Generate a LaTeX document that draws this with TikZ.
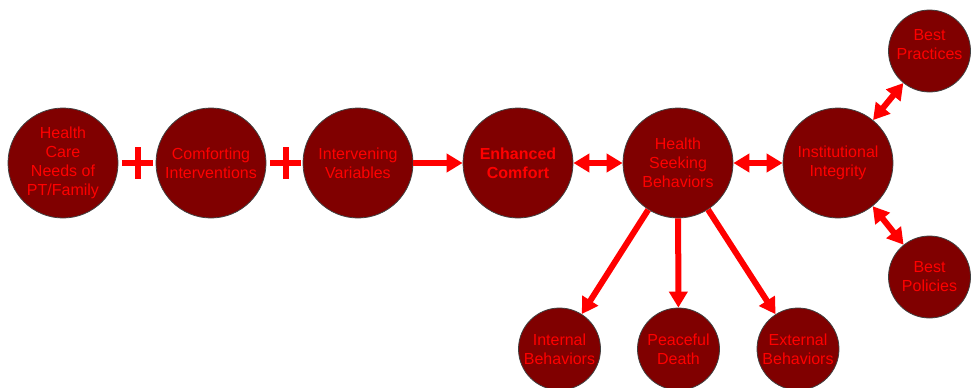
\documentclass[tikz,border=0pt]{standalone}
\usepackage{fontspec}
\setmainfont{Liberation Sans}
\usetikzlibrary{arrows.meta,shapes.misc}
\definecolor{darkred}{HTML}{800000}
\tikzset{
  bub/.style={circle,draw=black!75,line width=0.8pt,fill=darkred,text=red,
    font=\fontsize{16}{19}\selectfont,align=center,minimum size=110pt,inner sep=0pt},
  smallbub/.style={bub,minimum size=82pt},
  plus/.style={cross out,draw=red,line width=6pt,minimum size=16pt,inner sep=0pt,rotate=45},
  link/.style={red,line width=6pt,-{Triangle[length=16pt,width=18pt]}},
  dlink/.style={red,line width=6pt,{Triangle[length=16pt,width=18pt]}-{Triangle[length=16pt,width=18pt]}}
}

\begin{document}
\begin{tikzpicture}[x=1pt,y=-1pt]
\useasboundingbox (0,0) rectangle (978,388);
% main row
\node[bub] (hcn) at (63,163) {Health\\Care\\Needs of\\PT/Family};
\node[bub] (comf) at (211,163) {Comforting\\Interventions};
\node[bub] (ivar) at (358,163) {Intervening\\Variables};
\node[bub] (enh) at (518,163) {\textbf{Enhanced}\\\textbf{Comfort}};
\node[bub] (hsb) at (678,163) {Health\\Seeking\\Behaviors};
\node[bub] (inst) at (838,163) {Institutional\\Integrity};
% right side
\node[smallbub,text depth=14pt] (bprac) at (929.5,51) {Best\\Practices};
\node[smallbub] (bpol) at (929.5,277) {Best\\Policies};
% bottom row
\node[smallbub] (intb) at (559.5,349) {Internal\\Behaviors};
\node[smallbub] (pdeath) at (678.5,349) {Peaceful\\Death};
\node[smallbub] (extb) at (798,349) {External\\Behaviors};
% plus signs
\node[plus] (plusa) at (137.5,163) {};
\node[plus] (plusb) at (285.5,163) {};
% arrows
\draw[link] (ivar) -- (enh);
\draw[dlink] (enh) -- (hsb);
\draw[dlink] (hsb) -- (inst);
\draw[dlink] (inst) -- (bprac);
\draw[dlink] (inst) -- (bpol);
\draw[link] (hsb) -- (intb);
\draw[link] (hsb) -- (pdeath);
\draw[link] (hsb) -- (extb);
\end{tikzpicture}
\end{document}
